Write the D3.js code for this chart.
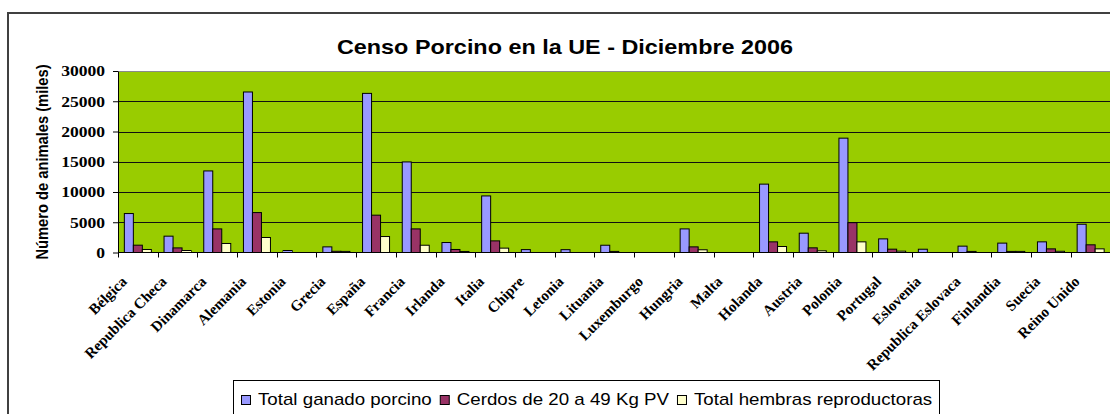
<!DOCTYPE html>
<html>
<head>
<meta charset="utf-8">
<script src="https://cdn.jsdelivr.net/npm/d3@7"></script>
<style>
body { margin: 0; background: #fff; }
svg { display: block; }
</style>
</head>
<body>
<div id="chart"></div>
<script>
// datos (miles de animales)
const paises = ["Bélgica", "Republica Checa", "Dinamarca", "Alemania", "Estonia", "Grecia",
  "España", "Francia", "Irlanda", "Italia", "Chipre", "Letonia", "Lituania", "Luxemburgo",
  "Hungria", "Malta", "Holanda", "Austria", "Polonia", "Portugal", "Eslovenia",
  "Republica Eslovaca", "Finlandia", "Suecia", "Reino Unido"];
const totalPorcino = [6440, 2700, 13480, 26530, 330, 930, 26300, 14970, 1650, 9350, 480, 470,
  1200, 0, 3900, 0, 11300, 3190, 18900, 2250, 540, 1050, 1550, 1760, 4670];
const cerdos20a49 = [1210, 760, 3900, 6600, 0, 200, 6170, 3900, 500, 1920, 0, 0,
  180, 0, 930, 0, 1760, 770, 4930, 550, 0, 180, 180, 600, 1270];
const hembrasRepro = [500, 330, 1490, 2480, 0, 180, 2640, 1200, 170, 720, 0, 0,
  0, 0, 450, 0, 990, 280, 1760, 220, 0, 0, 180, 200, 600];
const series = ["Total ganado porcino", "Cerdos de 20 a 49 Kg PV", "Total hembras reproductoras"];
const colores = ["#9999ff", "#993366", "#ffffcc"];
const yTicks = [0, 5000, 10000, 15000, 20000, 25000, 30000];

const width = 1110, height = 414;
const plot = {left: 118, right: 1110.5, top: 71, bottom: 252.5};
const sx = 1.17; // el grafico original esta estirado en horizontal

const svg = d3.select("#chart").append("svg")
    .attr("width", width)
    .attr("height", height);

// marco exterior
svg.append("rect")
    .attr("x", 8).attr("y", 13)
    .attr("width", 1120).attr("height", 430)
    .attr("fill", "none")
    .attr("stroke", "#404040")
    .attr("stroke-width", 2);

const x = d3.scaleBand().domain(paises).range([plot.left, plot.right]);
const xs = d3.scaleBand().domain(series).range([0, x.bandwidth()]).paddingOuter(0.705);
const y = d3.scaleLinear().domain([0, 30000]).range([plot.bottom, plot.top]);

// fondo del area de trazado
svg.append("rect")
    .attr("x", plot.left).attr("y", plot.top)
    .attr("width", plot.right - plot.left + 2)
    .attr("height", plot.bottom - plot.top)
    .attr("fill", "#99cc00");
svg.append("line")
    .attr("x1", plot.left).attr("x2", width)
    .attr("y1", plot.top + 0.5).attr("y2", plot.top + 0.5)
    .attr("stroke", "#8a8a8a");

// lineas de division
svg.selectAll(".grid")
  .data(yTicks.slice(1, -1))
  .join("line")
    .attr("class", "grid")
    .attr("x1", plot.left).attr("x2", width)
    .attr("y1", d => Math.round(y(d)) + 0.5)
    .attr("y2", d => Math.round(y(d)) + 0.5)
    .attr("stroke", "#111");

// barras
const datos = paises.map((p, i) => ({
    pais: p,
    vals: [totalPorcino[i], cerdos20a49[i], hembrasRepro[i]].map((v, k) => ({serie: series[k], v: v, k: k}))
}));

svg.selectAll("g.grupo")
  .data(datos)
  .join("g")
    .attr("class", "grupo")
    .attr("transform", d => `translate(${x(d.pais)},0)`)
  .selectAll("rect")
  .data(d => d.vals.filter(e => e.v > 0))
  .join("rect")
    .attr("x", d => xs(d.serie))
    .attr("y", d => y(d.v))
    .attr("width", xs.bandwidth())
    .attr("height", d => y(0) - y(d.v))
    .attr("fill", d => colores[d.k])
    .attr("stroke", "#000")
    .attr("stroke-width", 1);

// eje Y
const yAxis = svg.append("g")
    .attr("transform", `translate(${plot.left},0)`)
    .call(d3.axisLeft(y).tickValues(yTicks).tickSize(5).tickSizeOuter(0).tickFormat(d3.format("d")));
yAxis.select(".domain").attr("stroke", "#000");
yAxis.selectAll(".tick line").attr("stroke", "#000");
yAxis.selectAll("text")
    .attr("x", null)
    .attr("transform", `translate(-13,0) scale(${sx},1)`)
    .style("font-family", "'Liberation Serif', 'Times New Roman', serif")
    .style("font-weight", "bold")
    .style("font-size", "15px")
    .attr("fill", "#000");

// eje X
svg.append("line")
    .attr("x1", plot.left).attr("x2", width)
    .attr("y1", plot.bottom).attr("y2", plot.bottom)
    .attr("stroke", "#000");
svg.selectAll(".xtick")
  .data(paises)
  .join("line")
    .attr("class", "xtick")
    .attr("x1", d => Math.round(x(d)) + 0.5)
    .attr("x2", d => Math.round(x(d)) + 0.5)
    .attr("y1", plot.bottom).attr("y2", plot.bottom + 5)
    .attr("stroke", "#000");

svg.selectAll(".xlabel")
  .data(paises)
  .join("text")
    .attr("class", "xlabel")
    .attr("transform", d => `translate(${x(d) + x.bandwidth() / 2 - 10},${plot.bottom + 30}) rotate(-45)`)
    .attr("text-anchor", "end")
    .style("font-family", "'Liberation Serif', 'Times New Roman', serif")
    .style("font-weight", "bold")
    .style("font-size", "15px")
    .text(d => d);

// titulos
svg.append("text")
    .attr("transform", `translate(565,54) scale(${sx},1)`)
    .attr("text-anchor", "middle")
    .style("font-family", "'Liberation Sans', Arial, sans-serif")
    .style("font-weight", "bold")
    .style("font-size", "20px")
    .text("Censo Porcino en la UE - Diciembre 2006");

svg.append("text")
    .attr("transform", `translate(48,162) scale(${sx},1) rotate(-90)`)
    .attr("text-anchor", "middle")
    .style("font-family", "'Liberation Sans', Arial, sans-serif")
    .style("font-weight", "bold")
    .style("font-size", "14.7px")
    .text("Número de animales (miles)");

// leyenda
const leyenda = svg.append("g");
leyenda.append("rect")
    .attr("x", 233.5).attr("y", 380.5)
    .attr("width", 706).attr("height", 50)
    .attr("fill", "#fff")
    .attr("stroke", "#000");
let lx = 241;
series.forEach((s, i) => {
    leyenda.append("rect")
        .attr("x", lx + 0.5).attr("y", 395.5)
        .attr("width", 9).attr("height", 9)
        .attr("fill", colores[i])
        .attr("stroke", "#000");
    const t = leyenda.append("text")
        .attr("transform", `translate(${lx + 17},405) scale(${sx},1)`)
        .style("font-family", "'Liberation Sans', Arial, sans-serif")
        .style("font-size", "16px")
        .text(s);
    lx += 17 + t.node().getComputedTextLength() * sx + 8;
});
</script>
</body>
</html>
